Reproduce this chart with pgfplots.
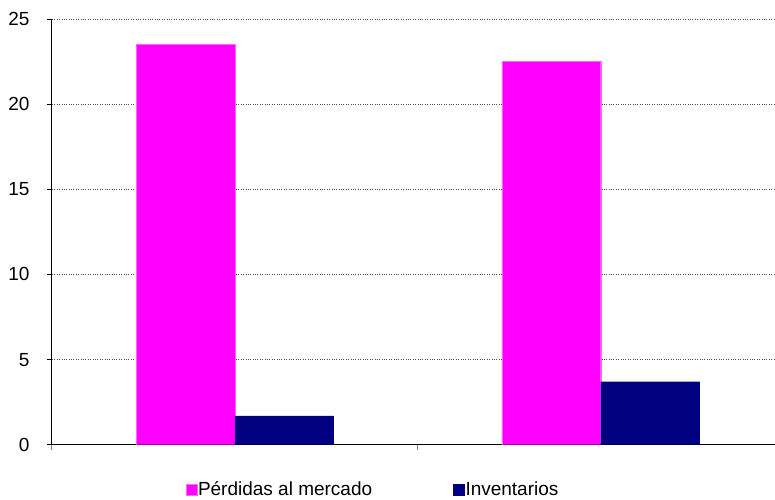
\documentclass[border=0pt]{standalone}
\usepackage{pgfplots}
\pgfplotsset{compat=1.18}
\usepackage{fontspec}
\setmainfont{Liberation Sans}

\definecolor{perdidas}{RGB}{255,0,255}
\definecolor{inventarios}{RGB}{0,0,128}

\begin{document}
\fontsize{19bp}{22bp}\selectfont
\begin{tikzpicture}
\begin{axis}[
    ybar=0pt,
    bar width=0.27,
    scale only axis,
    width=723bp, height=426bp,
    xmin=-0.5, xmax=1.475,
    ymin=0, ymax=25,
    ytick={0,5,...,25},
    xtick={-0.5,0.5,1.5},
    xticklabels={},
    axis x line*=bottom,
    axis y line*=left,
    axis line style={black, line width=1pt, -},
    x tick style={gray, line width=1pt},
    y tick style={black, line width=0.8pt},
    major tick length=5bp,
    tick align=outside,
    ymajorgrids,
    grid style={dotted, black!70, line width=0.7pt},
    /pgf/number format/assume math mode=true,
    yticklabel style={font=\fontsize{19bp}{22bp}\selectfont, xshift=-11bp},
    legend style={at={(axis description cs:0.185,-0.106)}, anchor=west,
        draw=none, fill=none, legend columns=2,
        font=\fontsize{19bp}{22bp}\selectfont,
        /tikz/every even column/.append style={column sep=80bp},
        nodes={inner sep=1bp},
        inner sep=0pt, outer sep=0pt},
    legend image code/.code={\fill[#1] (0bp,-5.5bp) rectangle (11bp,5.5bp);},
    legend cell align=left,
]
\addplot[fill=perdidas, draw=perdidas!60!white, line width=0.4pt]
    coordinates {(0,23.5) (1,22.5)};
\addlegendentry{Pérdidas al mercado}
\addplot[fill=inventarios, draw=inventarios, line width=0.4pt]
    coordinates {(0,1.7) (1,3.7)};
\addlegendentry{Inventarios}
\end{axis}
\path[use as bounding box] (-52bp,-53bp) rectangle (723bp,445bp);
\end{tikzpicture}
\end{document}
